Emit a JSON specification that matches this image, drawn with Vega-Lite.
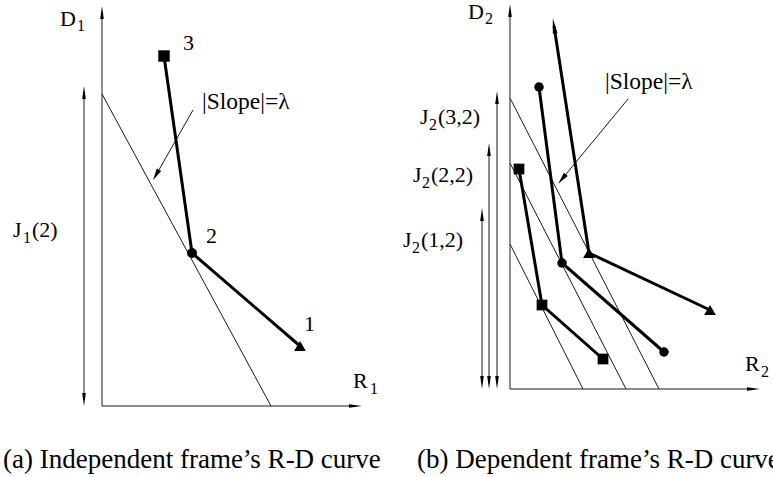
{
  "$schema": "https://vega.github.io/schema/vega-lite/v6.json",
  "padding": 0,
  "spacing": 0,
  "background": "white",
  "config": {"view": {"stroke": null}, "text": {"font": "'Liberation Serif', 'Times New Roman', Times, serif"}},
  "datasets": {
    "a_thin": [
      {"seg": "yaxis", "i": 0, "R": 0, "D": 0}, {"seg": "yaxis", "i": 1, "R": 0, "D": 394},
      {"seg": "xaxis", "i": 0, "R": 0, "D": 0}, {"seg": "xaxis", "i": 1, "R": 254, "D": 0},
      {"seg": "slope", "i": 0, "R": 0, "D": 312}, {"seg": "slope", "i": 1, "R": 169, "D": 0},
      {"seg": "J", "i": 0, "R": -18, "D": 6}, {"seg": "J", "i": 1, "R": -18, "D": 314},
      {"seg": "pointer", "i": 0, "R": 91, "D": 296}, {"seg": "pointer", "i": 1, "R": 54, "D": 231}
    ],
    "a_heads": [
      {"R": 0, "D": 393.5, "dir": 0}, {"R": 253.5, "D": 0, "dir": 90},
      {"R": -18, "D": 313.5, "dir": 0}, {"R": -18, "D": 6.5, "dir": 180}
    ],
    "a_pointer": [{"R": 54, "D": 231, "dir": 210}],
    "a_curve": [
      {"curve": "c", "i": 0, "R": 62, "D": 350, "marker": "square"},
      {"curve": "c", "i": 1, "R": 90, "D": 153, "marker": "circle"},
      {"curve": "c", "i": 2, "R": 198, "D": 60, "marker": "triangle"}
    ],
    "a_labels": [
      {"t": "D", "R": -42, "D": 380}, {"t": "3", "R": 81, "D": 356}, {"t": "2", "R": 104, "D": 163},
      {"t": "1", "R": 202, "D": 75},
      {"t": "J", "R": -89, "D": 169}, {"t": "(2)", "R": -70, "D": 169}, {"t": "R", "R": 251, "D": 18}
    ],
    "a_slope": [{"t": "|Slope|=λ", "R": 100, "D": 297}],
    "a_subs": [
      {"t": "1", "R": -25, "D": 375}, {"t": "1", "R": -79, "D": 163}, {"t": "1", "R": 268, "D": 12}
    ],
    "a_caption": [{"t": "(a) Independent frame’s R-D curve", "R": -99, "D": -62}],
    "b_thin": [
      {"seg": "yaxis", "i": 0, "R": 0, "D": 0}, {"seg": "yaxis", "i": 1, "R": 0, "D": 372},
      {"seg": "xaxis", "i": 0, "R": 0, "D": 0}, {"seg": "xaxis", "i": 1, "R": 243, "D": 0},
      {"seg": "L1", "i": 0, "R": 0, "D": 291}, {"seg": "L1", "i": 1, "R": 149, "D": 0},
      {"seg": "L2", "i": 0, "R": 0, "D": 226}, {"seg": "L2", "i": 1, "R": 116, "D": 0},
      {"seg": "L3", "i": 0, "R": 0, "D": 145}, {"seg": "L3", "i": 1, "R": 73, "D": 0},
      {"seg": "J1", "i": 0, "R": -28, "D": 6}, {"seg": "J1", "i": 1, "R": -28, "D": 175},
      {"seg": "J2", "i": 0, "R": -21, "D": 6}, {"seg": "J2", "i": 1, "R": -21, "D": 240},
      {"seg": "J3", "i": 0, "R": -13, "D": 6}, {"seg": "J3", "i": 1, "R": -13, "D": 292},
      {"seg": "pointer", "i": 0, "R": 118, "D": 290}, {"seg": "pointer", "i": 1, "R": 52, "D": 210}
    ],
    "b_heads": [
      {"R": 0, "D": 378.5, "dir": 0}, {"R": 243.5, "D": 0, "dir": 90},
      {"R": -28, "D": 174.5, "dir": 0}, {"R": -28, "D": 6.5, "dir": 180},
      {"R": -21, "D": 239.5, "dir": 0}, {"R": -21, "D": 6.5, "dir": 180},
      {"R": -13, "D": 291.5, "dir": 0}, {"R": -13, "D": 6.5, "dir": 180}
    ],
    "b_pointer": [{"R": 52, "D": 210, "dir": 219.5}],
    "b_curve": [
      {"curve": "sq", "i": 0, "R": 9, "D": 220, "marker": "square", "dir": 0},
      {"curve": "sq", "i": 1, "R": 32, "D": 84, "marker": "square", "dir": 0},
      {"curve": "sq", "i": 2, "R": 93, "D": 30, "marker": "square", "dir": 0},
      {"curve": "ci", "i": 0, "R": 29, "D": 302, "marker": "circle", "dir": 0},
      {"curve": "ci", "i": 1, "R": 52, "D": 126, "marker": "circle", "dir": 0},
      {"curve": "ci", "i": 2, "R": 154, "D": 37, "marker": "circle", "dir": 0},
      {"curve": "tr", "i": 0, "R": 44, "D": 363, "marker": "head", "dir": 351},
      {"curve": "tr", "i": 1, "R": 79, "D": 136, "marker": "triangle", "dir": 0},
      {"curve": "tr", "i": 2, "R": 200, "D": 79, "marker": "triangle", "dir": 0}
    ],
    "b_labels": [
      {"t": "D", "R": -42, "D": 370},
      {"t": "J", "R": -90, "D": 265}, {"t": "(3,2)", "R": -72, "D": 265},
      {"t": "J", "R": -97, "D": 207}, {"t": "(2,2)", "R": -79, "D": 207},
      {"t": "J", "R": -107, "D": 142}, {"t": "(1,2)", "R": -89, "D": 142},
      {"t": "R", "R": 235, "D": 18}
    ],
    "b_slope": [{"t": "|Slope|=λ", "R": 95, "D": 300}],
    "b_subs": [
      {"t": "2", "R": -25, "D": 365}, {"t": "2", "R": -81, "D": 259}, {"t": "2", "R": -88, "D": 201},
      {"t": "2", "R": -98, "D": 136}, {"t": "2", "R": 251, "D": 12}
    ],
    "b_caption": [{"t": "(b) Dependent frame’s R-D curve", "R": -93, "D": -79}]
  },
  "hconcat": [
    {
      "width": 385,
      "height": 477,
      "encoding": {
        "x": {"field": "R", "type": "quantitative", "axis": null, "scale": {"domain": [-102, 283], "nice": false, "zero": false}},
        "y": {"field": "D", "type": "quantitative", "axis": null, "scale": {"domain": [-72, 405], "nice": false, "zero": false}}
      },
      "layer": [
        {"data": {"name": "a_thin"}, "mark": {"type": "line", "color": "#1a1a1a", "strokeWidth": 1}, "encoding": {"detail": {"field": "seg"}, "order": {"field": "i"}}},
        {"data": {"name": "a_curve"}, "mark": {"type": "line", "color": "black", "strokeWidth": 3}, "encoding": {"detail": {"field": "curve"}, "order": {"field": "i"}}},
        {"data": {"name": "a_heads"}, "mark": {"type": "point", "filled": true, "opacity": 1, "color": "black", "shape": "M0,-1L0.28,1L-0.28,1Z", "size": 169}, "encoding": {"angle": {"field": "dir", "type": "quantitative", "scale": null}}},
        {"data": {"name": "a_pointer"}, "mark": {"type": "point", "filled": true, "opacity": 1, "color": "black", "shape": "M0,-1L0.42,1L-0.42,1Z", "size": 144}, "encoding": {"angle": {"field": "dir", "type": "quantitative", "scale": null}}},
        {"data": {"name": "a_curve"}, "transform": [{"filter": "datum.marker === 'square'"}], "mark": {"type": "point", "filled": true, "opacity": 1, "color": "black", "shape": "square", "size": 130}},
        {"data": {"name": "a_curve"}, "transform": [{"filter": "datum.marker === 'circle'"}], "mark": {"type": "point", "filled": true, "opacity": 1, "color": "black", "shape": "circle", "size": 100}},
        {"data": {"name": "a_curve"}, "transform": [{"filter": "datum.marker === 'triangle'"}], "mark": {"type": "point", "filled": true, "opacity": 1, "color": "black", "shape": "triangle-up", "size": 140}},
        {"data": {"name": "a_labels"}, "mark": {"type": "text", "align": "left", "baseline": "alphabetic", "fontSize": 22, "color": "black"}, "encoding": {"text": {"field": "t"}}},
        {"data": {"name": "a_slope"}, "mark": {"type": "text", "align": "left", "baseline": "alphabetic", "fontSize": 23.5, "color": "black"}, "encoding": {"text": {"field": "t"}}},
        {"data": {"name": "a_subs"}, "mark": {"type": "text", "align": "left", "baseline": "alphabetic", "fontSize": 16, "color": "black"}, "encoding": {"text": {"field": "t"}}},
        {"data": {"name": "a_caption"}, "mark": {"type": "text", "align": "left", "baseline": "alphabetic", "fontSize": 27, "color": "black"}, "encoding": {"text": {"field": "t"}}}
      ]
    },
    {
      "width": 388,
      "height": 477,
      "encoding": {
        "x": {"field": "R", "type": "quantitative", "axis": null, "scale": {"domain": [-125, 263], "nice": false, "zero": false}},
        "y": {"field": "D", "type": "quantitative", "axis": null, "scale": {"domain": [-89, 388], "nice": false, "zero": false}}
      },
      "layer": [
        {"data": {"name": "b_thin"}, "mark": {"type": "line", "color": "#1a1a1a", "strokeWidth": 1}, "encoding": {"detail": {"field": "seg"}, "order": {"field": "i"}}},
        {"data": {"name": "b_curve"}, "mark": {"type": "line", "color": "black", "strokeWidth": 3}, "encoding": {"detail": {"field": "curve"}, "order": {"field": "i"}}},
        {"data": {"name": "b_heads"}, "mark": {"type": "point", "filled": true, "opacity": 1, "color": "black", "shape": "M0,-1L0.28,1L-0.28,1Z", "size": 169}, "encoding": {"angle": {"field": "dir", "type": "quantitative", "scale": null}}},
        {"data": {"name": "b_pointer"}, "mark": {"type": "point", "filled": true, "opacity": 1, "color": "black", "shape": "M0,-1L0.42,1L-0.42,1Z", "size": 144}, "encoding": {"angle": {"field": "dir", "type": "quantitative", "scale": null}}},
        {"data": {"name": "b_curve"}, "transform": [{"filter": "datum.marker === 'head'"}], "mark": {"type": "point", "filled": true, "opacity": 1, "color": "black", "shape": "M0,-1L0.32,1L-0.32,1Z", "size": 225}, "encoding": {"angle": {"field": "dir", "type": "quantitative", "scale": null}}},
        {"data": {"name": "b_curve"}, "transform": [{"filter": "datum.marker === 'square'"}], "mark": {"type": "point", "filled": true, "opacity": 1, "color": "black", "shape": "square", "size": 115}},
        {"data": {"name": "b_curve"}, "transform": [{"filter": "datum.marker === 'circle'"}], "mark": {"type": "point", "filled": true, "opacity": 1, "color": "black", "shape": "circle", "size": 90}},
        {"data": {"name": "b_curve"}, "transform": [{"filter": "datum.marker === 'triangle'"}], "mark": {"type": "point", "filled": true, "opacity": 1, "color": "black", "shape": "triangle-up", "size": 140}},
        {"data": {"name": "b_labels"}, "mark": {"type": "text", "align": "left", "baseline": "alphabetic", "fontSize": 22, "color": "black"}, "encoding": {"text": {"field": "t"}}},
        {"data": {"name": "b_slope"}, "mark": {"type": "text", "align": "left", "baseline": "alphabetic", "fontSize": 23.5, "color": "black"}, "encoding": {"text": {"field": "t"}}},
        {"data": {"name": "b_subs"}, "mark": {"type": "text", "align": "left", "baseline": "alphabetic", "fontSize": 16, "color": "black"}, "encoding": {"text": {"field": "t"}}},
        {"data": {"name": "b_caption"}, "mark": {"type": "text", "align": "left", "baseline": "alphabetic", "fontSize": 27, "color": "black"}, "encoding": {"text": {"field": "t"}}}
      ]
    }
  ]
}
